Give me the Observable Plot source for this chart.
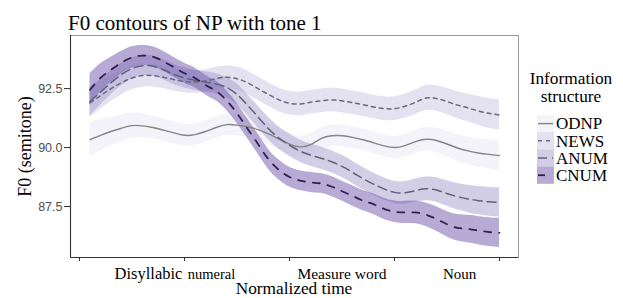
<!DOCTYPE html>
<html><head><meta charset="utf-8">
<script src="https://cdn.jsdelivr.net/npm/d3@7"></script>
<script src="https://cdn.jsdelivr.net/npm/@observablehq/plot@0.6"></script>
<style>
html,body{margin:0;padding:0;background:#fff;}
#wrap{position:relative;width:623px;height:298px;overflow:hidden;}
</style></head><body><div id="wrap"></div>
<script>
// ---- data ----
const time = [1,2,3,4,5,6,7,8,9,10,11,12,13,14,15,16,17,18,19,20,21,22,23,24,25,26,27,28,29,30,31,32,33,34,35,36,37,38,39,40];
const groups = ["ODNP","NEWS","ANUM","CNUM"];
const odnp = [90.34,90.52,90.68,90.82,90.93,90.92,90.85,90.74,90.62,90.52,90.55,90.68,90.85,90.97,90.95,90.88,90.76,90.58,90.36,90.15,90.03,90.12,90.38,90.5,90.5,90.43,90.33,90.2,90.07,90.0,90.08,90.25,90.35,90.3,90.15,89.98,89.86,89.77,89.71,89.66];
const news = [91.9,92.2,92.5,92.75,92.95,93.05,93.05,92.98,92.88,92.8,92.78,92.82,92.92,92.98,92.92,92.75,92.5,92.25,92.02,91.88,91.85,91.92,91.98,92.02,91.98,91.9,91.82,91.72,91.65,91.65,91.75,91.92,92.1,92.08,91.95,91.8,91.68,91.55,91.45,91.38];
const anum = [91.95,92.35,92.75,93.1,93.35,93.47,93.45,93.3,93.1,92.95,92.85,92.78,92.7,92.55,92.25,91.8,91.3,90.8,90.4,90.1,89.85,89.68,89.55,89.4,89.2,88.95,88.68,88.45,88.25,88.1,88.08,88.18,88.25,88.2,88.05,87.92,87.82,87.75,87.7,87.68];
const cnum = [92.45,92.95,93.3,93.6,93.82,93.9,93.85,93.65,93.4,93.15,92.95,92.65,92.4,92.0,91.45,90.8,90.15,89.5,89.05,88.75,88.6,88.52,88.48,88.35,88.15,87.95,87.75,87.6,87.4,87.28,87.25,87.25,87.15,86.97,86.75,86.6,86.55,86.48,86.42,86.38];
// half-widths of the confidence ribbons (semitone)
const odnpSE = [0.72,0.66,0.6,0.56,0.53,0.5,0.48,0.47,0.46,0.46,0.45,0.45,0.45,0.45,0.45,0.45,0.45,0.45,0.45,0.45,0.45,0.45,0.45,0.45,0.45,0.45,0.45,0.46,0.46,0.47,0.48,0.49,0.5,0.52,0.54,0.56,0.58,0.6,0.62,0.64];
const newsSE = [0.62,0.58,0.55,0.52,0.5,0.49,0.48,0.48,0.48,0.48,0.48,0.48,0.48,0.48,0.49,0.5,0.5,0.5,0.5,0.5,0.5,0.5,0.5,0.5,0.5,0.5,0.5,0.5,0.5,0.5,0.51,0.52,0.53,0.54,0.55,0.57,0.59,0.61,0.63,0.65];
const anumSE = [0.6,0.55,0.5,0.47,0.45,0.44,0.43,0.43,0.43,0.43,0.43,0.43,0.43,0.43,0.44,0.45,0.46,0.47,0.47,0.47,0.47,0.47,0.47,0.47,0.47,0.47,0.47,0.47,0.47,0.47,0.48,0.49,0.5,0.52,0.54,0.56,0.58,0.6,0.61,0.62];
const cnumSE = [0.68,0.6,0.53,0.48,0.45,0.43,0.42,0.42,0.42,0.42,0.42,0.42,0.42,0.42,0.42,0.42,0.42,0.42,0.42,0.42,0.42,0.42,0.42,0.42,0.42,0.43,0.43,0.44,0.45,0.46,0.47,0.48,0.5,0.52,0.54,0.56,0.58,0.6,0.61,0.62];
const yTicks = [87.5, 90.0, 92.5];
const xTicks = [0, 10, 20, 30, 40];
const segLabels = [
  {label: "Disyllabic", t: 9.8, anchor: "end", size: 16.5},
  {label: "numeral", t: 10.3, anchor: "start", size: 14.5},
  {label: "Measure word", t: 25, anchor: "middle", size: 15.5},
  {label: "Noun", t: 36.2, anchor: "middle", size: 15}
];

// ---- styles ----
const style = {
  ODNP: {fill: "#e9e7f3", stroke: "#858585", width: 1.4, dash: null},
  NEWS: {fill: "#c9c5e1", stroke: "#6a6a7a", width: 1.5, dash: "4,4"},
  ANUM: {fill: "#a59dcd", stroke: "#626276", width: 1.5, dash: "9,5"},
  CNUM: {fill: "#6f57ab", stroke: "#2e2250", width: 1.8, dash: "7,8"}
};
const alpha = 0.5;
const means = {ODNP: odnp, NEWS: news, ANUM: anum, CNUM: cnum};
const ses = {ODNP: odnpSE, NEWS: newsSE, ANUM: anumSE, CNUM: cnumSE};
const rows = {};
for (const g of groups) rows[g] = time.map((t, i) => ({t, y: means[g][i], lo: means[g][i] - ses[g][i], hi: means[g][i] + ses[g][i]}));

const xDomain = [-0.86, 41.81], yDomain = [85.34, 94.75];
const serif = "'Liberation Serif','Times New Roman',serif";
const sans = "'Liberation Sans',Arial,Helvetica,sans-serif";

const plot = Plot.plot({
  width: 623, height: 298,
  marginLeft: 70, marginRight: 105, marginTop: 35, marginBottom: 41,
  x: {domain: xDomain},
  y: {domain: yDomain},
  style: {background: "#fff", overflow: "visible"},
  marks: [
    ...groups.map(g => Plot.areaY(rows[g], {x: "t", y1: "lo", y2: "hi", fill: style[g].fill, fillOpacity: alpha, curve: "natural"})),
    ...groups.map(g => Plot.line(rows[g], {x: "t", y: "y", stroke: style[g].stroke, strokeWidth: style[g].width, strokeDasharray: style[g].dash, curve: "natural"})),
    Plot.frame({stroke: "#9a9a9a"}),
    Plot.ruleX([xDomain[0]], {stroke: "#333", strokeWidth: 1.1}),
    Plot.ruleY([yDomain[0]], {stroke: "#333", strokeWidth: 1.1}),
    Plot.axisY(yTicks, {tickSize: 6, tickPadding: 2, tickFormat: d3.format(".1f"), fontSize: 12.5, fontFamily: sans, stroke: "#333", fill: "#4d4d4d", label: null}),
    Plot.axisX(xTicks, {tickSize: 4, tickFormat: () => "", stroke: "#333", label: null}),
    ...segLabels.map(s => Plot.text([s], {x: "t", text: "label", frameAnchor: "bottom", dy: 21, lineAnchor: "bottom", textAnchor: s.anchor, fontSize: s.size, fontFamily: serif, fill: "#000"}))
  ]
});
document.getElementById("wrap").appendChild(plot);

const svg = d3.select(plot);
function txt(x, y, s, size, anchor, extra) {
  const t = svg.append("text").attr("x", x).attr("y", y).text(s)
    .attr("font-family", serif).attr("font-size", size).attr("fill", "#000")
    .attr("text-anchor", anchor || "start");
  if (extra) extra(t);
  return t;
}
// title and axis titles
txt(68, 30, "F0 contours of NP with tone 1", 21);
txt(294, 294, "Normalized time", 17.3, "middle");
txt(0, 0, "F0 (semitone)", 18, "middle", t => t.attr("transform", "translate(31,146.5) rotate(-90)"));
// legend
txt(571, 83.5, "Information", 17.3, "middle");
txt(571, 101.5, "structure", 17.3, "middle");
const leg = svg.append("g");
groups.forEach((g, i) => {
  const y0 = 115 + 17.2 * i;
  leg.append("rect").attr("x", 537).attr("y", y0).attr("width", 17).attr("height", 17.2)
    .attr("fill", style[g].fill).attr("fill-opacity", alpha);
  leg.append("line").attr("x1", 538).attr("x2", 553).attr("y1", y0 + 8.6).attr("y2", y0 + 8.6)
    .attr("stroke", style[g].stroke).attr("stroke-width", style[g].width)
    .attr("stroke-dasharray", style[g].dash);
  txt(556, y0 + 14.3, g, 17);
});
</script>
</body></html>
